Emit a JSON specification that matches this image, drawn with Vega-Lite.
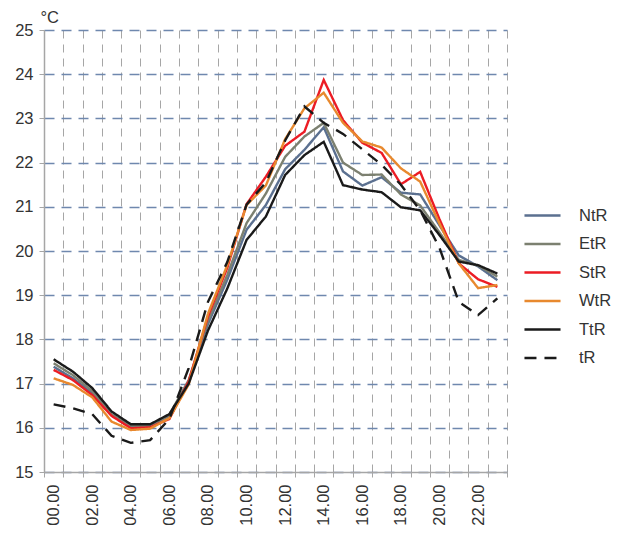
{
  "$schema": "https://vega.github.io/schema/vega-lite/v6.json",
  "width": 463,
  "height": 442,
  "autosize": "none",
  "padding": {"left": 44, "top": 30, "right": 117, "bottom": 62},
  "background": "white",
  "config": {
    "view": {"stroke": null},
    "font": "Liberation Sans"
  },
  "data": {
    "values": [
      {"t":"00.00","s":"NtR","v":17.38},{"t":"00.00","s":"EtR","v":17.46},{"t":"00.00","s":"StR","v":17.31},{"t":"00.00","s":"WtR","v":17.12},{"t":"00.00","s":"TtR","v":17.55},{"t":"00.00","s":"tR","v":16.53},
      {"t":"01.00","s":"NtR","v":17.12},{"t":"01.00","s":"EtR","v":17.19},{"t":"01.00","s":"StR","v":17.08},{"t":"01.00","s":"WtR","v":16.97},{"t":"01.00","s":"TtR","v":17.27},{"t":"01.00","s":"tR","v":16.44},
      {"t":"02.00","s":"NtR","v":16.78},{"t":"02.00","s":"EtR","v":16.83},{"t":"02.00","s":"StR","v":16.74},{"t":"02.00","s":"WtR","v":16.69},{"t":"02.00","s":"TtR","v":16.90},{"t":"02.00","s":"tR","v":16.31},
      {"t":"03.00","s":"NtR","v":16.30},{"t":"03.00","s":"EtR","v":16.30},{"t":"03.00","s":"StR","v":16.27},{"t":"03.00","s":"WtR","v":16.14},{"t":"03.00","s":"TtR","v":16.37},{"t":"03.00","s":"tR","v":15.82},
      {"t":"04.00","s":"NtR","v":16.03},{"t":"04.00","s":"EtR","v":16.05},{"t":"04.00","s":"StR","v":15.99},{"t":"04.00","s":"WtR","v":15.95},{"t":"04.00","s":"TtR","v":16.08},{"t":"04.00","s":"tR","v":15.66},
      {"t":"05.00","s":"NtR","v":16.03},{"t":"05.00","s":"EtR","v":16.04},{"t":"05.00","s":"StR","v":16.01},{"t":"05.00","s":"WtR","v":15.98},{"t":"05.00","s":"TtR","v":16.08},{"t":"05.00","s":"tR","v":15.72},
      {"t":"06.00","s":"NtR","v":16.27},{"t":"06.00","s":"EtR","v":16.30},{"t":"06.00","s":"StR","v":16.20},{"t":"06.00","s":"WtR","v":16.22},{"t":"06.00","s":"TtR","v":16.31},{"t":"06.00","s":"tR","v":16.20},
      {"t":"07.00","s":"NtR","v":17.05},{"t":"07.00","s":"EtR","v":17.08},{"t":"07.00","s":"StR","v":17.05},{"t":"07.00","s":"WtR","v":16.98},{"t":"07.00","s":"TtR","v":17.00},{"t":"07.00","s":"tR","v":17.35},
      {"t":"08.00","s":"NtR","v":18.35},{"t":"08.00","s":"EtR","v":18.42},{"t":"08.00","s":"StR","v":18.52},{"t":"08.00","s":"WtR","v":18.58},{"t":"08.00","s":"TtR","v":18.20},{"t":"08.00","s":"tR","v":18.85},
      {"t":"09.00","s":"NtR","v":19.35},{"t":"09.00","s":"EtR","v":19.46},{"t":"09.00","s":"StR","v":19.62},{"t":"09.00","s":"WtR","v":19.68},{"t":"09.00","s":"TtR","v":19.15},{"t":"09.00","s":"tR","v":19.75},
      {"t":"10.00","s":"NtR","v":20.48},{"t":"10.00","s":"EtR","v":20.63},{"t":"10.00","s":"StR","v":21.06},{"t":"10.00","s":"WtR","v":21.04},{"t":"10.00","s":"TtR","v":20.25},{"t":"10.00","s":"tR","v":21.05},
      {"t":"11.00","s":"NtR","v":21.04},{"t":"11.00","s":"EtR","v":21.30},{"t":"11.00","s":"StR","v":21.68},{"t":"11.00","s":"WtR","v":21.48},{"t":"11.00","s":"TtR","v":20.78},{"t":"11.00","s":"tR","v":21.55},
      {"t":"12.00","s":"NtR","v":21.85},{"t":"12.00","s":"EtR","v":22.13},{"t":"12.00","s":"StR","v":22.38},{"t":"12.00","s":"WtR","v":22.53},{"t":"12.00","s":"TtR","v":21.72},{"t":"12.00","s":"tR","v":22.50},
      {"t":"13.00","s":"NtR","v":22.29},{"t":"13.00","s":"EtR","v":22.59},{"t":"13.00","s":"StR","v":22.70},{"t":"13.00","s":"WtR","v":23.23},{"t":"13.00","s":"TtR","v":22.17},{"t":"13.00","s":"tR","v":23.27},
      {"t":"14.00","s":"NtR","v":22.80},{"t":"14.00","s":"EtR","v":22.90},{"t":"14.00","s":"StR","v":23.87},{"t":"14.00","s":"WtR","v":23.58},{"t":"14.00","s":"TtR","v":22.47},{"t":"14.00","s":"tR","v":22.90},
      {"t":"15.00","s":"NtR","v":21.80},{"t":"15.00","s":"EtR","v":22.00},{"t":"15.00","s":"StR","v":22.96},{"t":"15.00","s":"WtR","v":22.90},{"t":"15.00","s":"TtR","v":21.49},{"t":"15.00","s":"tR","v":22.65},
      {"t":"16.00","s":"NtR","v":21.48},{"t":"16.00","s":"EtR","v":21.72},{"t":"16.00","s":"StR","v":22.45},{"t":"16.00","s":"WtR","v":22.48},{"t":"16.00","s":"TtR","v":21.39},{"t":"16.00","s":"tR","v":22.30},
      {"t":"17.00","s":"NtR","v":21.67},{"t":"17.00","s":"EtR","v":21.73},{"t":"17.00","s":"StR","v":22.22},{"t":"17.00","s":"WtR","v":22.34},{"t":"17.00","s":"TtR","v":21.33},{"t":"17.00","s":"tR","v":21.95},
      {"t":"18.00","s":"NtR","v":21.32},{"t":"18.00","s":"EtR","v":21.28},{"t":"18.00","s":"StR","v":21.51},{"t":"18.00","s":"WtR","v":21.87},{"t":"18.00","s":"TtR","v":20.99},{"t":"18.00","s":"tR","v":21.50},
      {"t":"19.00","s":"NtR","v":21.28},{"t":"19.00","s":"EtR","v":21.03},{"t":"19.00","s":"StR","v":21.79},{"t":"19.00","s":"WtR","v":21.57},{"t":"19.00","s":"TtR","v":20.92},{"t":"19.00","s":"tR","v":20.92},
      {"t":"20.00","s":"NtR","v":20.58},{"t":"20.00","s":"EtR","v":20.42},{"t":"20.00","s":"StR","v":20.72},{"t":"20.00","s":"WtR","v":20.62},{"t":"20.00","s":"TtR","v":20.36},{"t":"20.00","s":"tR","v":20.07},
      {"t":"21.00","s":"NtR","v":19.90},{"t":"21.00","s":"EtR","v":19.80},{"t":"21.00","s":"StR","v":19.72},{"t":"21.00","s":"WtR","v":19.72},{"t":"21.00","s":"TtR","v":19.76},{"t":"21.00","s":"tR","v":18.85},
      {"t":"22.00","s":"NtR","v":19.65},{"t":"22.00","s":"EtR","v":19.67},{"t":"22.00","s":"StR","v":19.36},{"t":"22.00","s":"WtR","v":19.16},{"t":"22.00","s":"TtR","v":19.68},{"t":"22.00","s":"tR","v":18.55},
      {"t":"23.00","s":"NtR","v":19.34},{"t":"23.00","s":"EtR","v":19.42},{"t":"23.00","s":"StR","v":19.19},{"t":"23.00","s":"WtR","v":19.23},{"t":"23.00","s":"TtR","v":19.49},{"t":"23.00","s":"tR","v":18.93}
    ]
  },
  "mark": {"type": "line", "strokeWidth": 2.4},
  "encoding": {
    "x": {
      "field": "t",
      "type": "ordinal",
      "scale": {"type": "band", "paddingInner": 0, "paddingOuter": 0},
      "axis": {
        "title": null,
        "tickBand": "extent",
        "grid": true,
        "gridColor": "#a6a6a6",
        "gridDash": [8, 6],
        "gridWidth": 1,
        "domainColor": "#a6a6a6",
        "domainWidth": 1.5,
        "tickColor": "#a6a6a6",
        "tickSize": 5,
        "labelAngle": -90,
        "labelAlign": "right",
        "labelBaseline": "middle",
        "labelPadding": 7,
        "labelFontSize": 16.5,
        "labelColor": "#333333",
        "labelExpr": "indexof(['00.00','02.00','04.00','06.00','08.00','10.00','12.00','14.00','16.00','18.00','20.00','22.00'], datum.label) >= 0 ? datum.label : ''"
      }
    },
    "y": {
      "field": "v",
      "type": "quantitative",
      "scale": {"domain": [15, 25], "nice": false, "zero": false},
      "axis": {
        "title": "°C",
        "titleAngle": 0,
        "titleX": -4,
        "titleY": -13,
        "titleAlign": "left",
        "titleBaseline": "middle",
        "titleFontSize": 16.5,
        "titleFontWeight": "normal",
        "titleColor": "#333333",
        "values": [15,16,17,18,19,20,21,22,23,24,25],
        "grid": true,
        "gridColor": "#6f88ae",
        "gridDash": [10, 7],
        "gridWidth": 1.5,
        "domainColor": "#a6a6a6",
        "domainWidth": 1.5,
        "tickColor": "#a6a6a6",
        "tickSize": 5,
        "labelPadding": 6,
        "labelFontSize": 16.5,
        "labelColor": "#333333"
      }
    },
    "color": {
      "field": "s",
      "type": "nominal",
      "scale": {
        "domain": ["NtR", "EtR", "StR", "WtR", "TtR", "tR"],
        "range": ["#5b7090", "#7c8070", "#ec1c24", "#e8892e", "#1a1a1a", "#1a1a1a"]
      },
      "legend": {
        "title": null,
        "orient": "none",
        "legendX": 479,
        "legendY": 166,
        "padding": 0,
        "symbolType": "stroke",
        "symbolSize": 1300,
        "symbolStrokeWidth": 2.4,
        "rowPadding": 0.5,
        "labelFontSize": 16.5,
        "labelColor": "#333333",
        "labelOffset": 17
      }
    },
    "strokeDash": {
      "field": "s",
      "type": "nominal",
      "scale": {
        "domain": ["NtR", "EtR", "StR", "WtR", "TtR", "tR"],
        "range": [[1, 0], [1, 0], [1, 0], [1, 0], [1, 0], [12, 8]]
      },
      "legend": {
        "title": null,
        "orient": "none",
        "legendX": 479,
        "legendY": 166,
        "padding": 0,
        "symbolType": "stroke",
        "symbolSize": 1300,
        "symbolStrokeWidth": 2.4,
        "rowPadding": 0.5,
        "labelFontSize": 16.5,
        "labelColor": "#333333",
        "labelOffset": 17
      }
    }
  }
}
